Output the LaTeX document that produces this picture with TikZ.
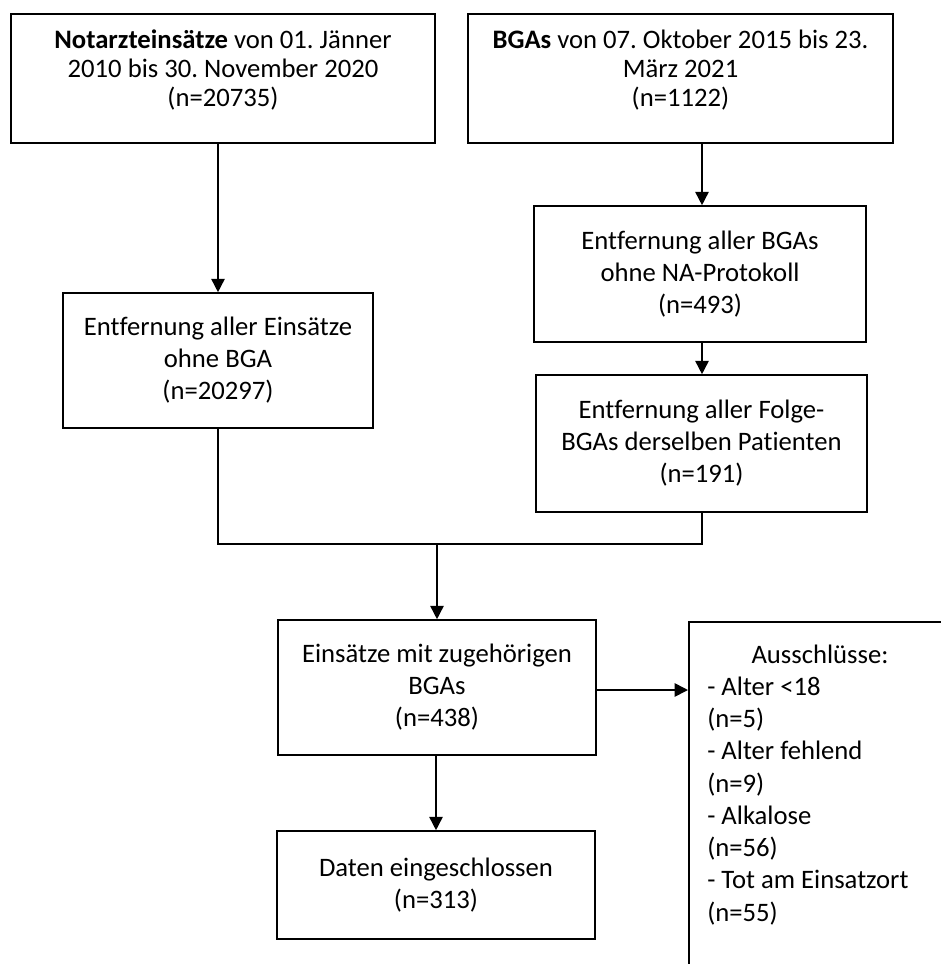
\documentclass[tikz,border=0pt]{standalone}
\usepackage{fontspec}
\setmainfont{Carlito}[Ligatures=CommonOff]
\usetikzlibrary{arrows.meta}
\frenchspacing
\tikzset{
  box/.style={draw=black, line width=1.2pt, inner sep=0pt, align=center, anchor=center},
  txt/.style={inner sep=0pt, align=center},
  conn/.style={line width=1.2pt},
  arr/.style={line width=1.2pt, -{Triangle[width=10pt,length=10pt]}},
}
\newcommand{\fs}{\fontsize{20}{24}\selectfont}
\newcommand{\fsa}{\fontsize{20}{22}\selectfont}
\begin{document}
\begin{tikzpicture}[x=0.75pt,y=-0.75pt]
\useasboundingbox (0,0) rectangle (941,964);
\clip (0,0) rectangle (941,964);
% boxes
\node[box, minimum width=318pt, minimum height=96.75pt] (n1) at (223,78.5) {};
\node[txt, font=\fsa] (t1) at (223,70) {\textbf{Notarzteinsätze} von 01. Jänner\\2010 bis 30. November 2020\\(n=20735)};
\node[box, minimum width=318.75pt, minimum height=96.75pt] (n2) at (680.5,78.5) {};
\node[txt, font=\fsa] (t2) at (680.5,70) {\textbf{BGAs} von 07. Oktober 2015 bis 23.\\März 2021\\(n=1122)};
\node[box, font=\fs, minimum width=249pt, minimum height=102pt] (n3) at (700,274) {Entfernung aller BGAs\\ohne NA-Protokoll\\(n=493)};
\node[box, font=\fs, minimum width=232.5pt, minimum height=101.25pt] (n4) at (218,360.5) {Entfernung aller Einsätze\\ohne BGA\\(n=20297)};
\node[box, font=\fs, minimum width=248.25pt, minimum height=102.75pt] (n5) at (701.5,443.5) {Entfernung aller Folge-\\BGAs derselben Patienten\\(n=191)};
\node[box, font=\fs, minimum width=238.5pt, minimum height=101.25pt] (n6) at (437,687.5) {Einsätze mit zugehörigen\\BGAs\\(n=438)};
\node[box, font=\fs, minimum width=238.5pt, minimum height=81pt] (n7) at (436,885) {Daten eingeschlossen\\(n=313)};
\node[box, anchor=north west, minimum width=240pt, minimum height=300pt] (n8) at (688,621) {};
\node[txt, font=\fs, anchor=base] (t8) at (820,663) {Ausschlüsse:};
\node[txt, font=\fontsize{20}{24.2}\selectfont, anchor=north west, align=left] (t9) at (707,672.4) {\strut- Alter <18\\(n=5)\\- Alter fehlend\\(n=9)\\- Alkalose\\(n=56)\\- Tot am Einsatzort\\(n=55)};
% junction coordinates
\coordinate (jl) at (n4.south |- 0,544);
\coordinate (jr) at (702,544);
\coordinate (jm) at (n6.north |- 0,544);
% connectors
\draw[arr] (n1.south -| n4.north) -- (n4.north);
\draw[arr] (702,143) coordinate (s2) -- (s2 |- n3.north);
\draw[arr] (702,342) coordinate (s3) -- (s3 |- n5.north);
\draw[conn] (n4.south) -- (jl);
\draw[conn] (702,512) coordinate (s5) -- (jr);
\draw[conn] ([xshift=-0.6pt]jl) -- ([xshift=0.6pt]jr);
\draw[arr] (jm) -- (n6.north);
\draw[arr] (n6.south -| n7.north) -- (n7.north);
\draw[arr] (n6.east |- 0,690) coordinate (s6) -- (s6 -| n8.west);
\end{tikzpicture}
\end{document}
